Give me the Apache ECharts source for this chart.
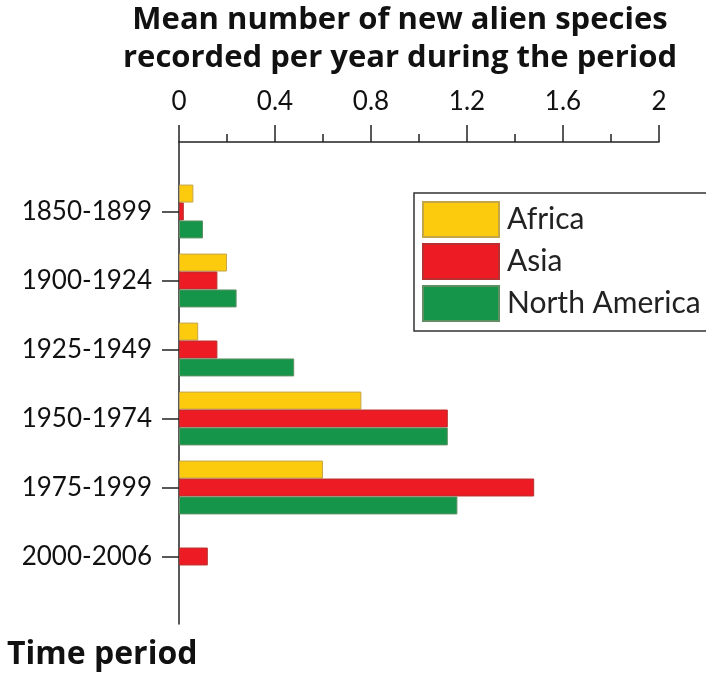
<!DOCTYPE html>
<html>
<head>
<meta charset="utf-8">
<script src="https://cdn.jsdelivr.net/npm/echarts@6/dist/echarts.min.js"></script>
<style>
  html, body { margin: 0; padding: 0; background: #fff; }
  #main { width: 706px; height: 674px; }
</style>
</head>
<body>
<div id="main"></div>
<script>
// data
var periods = ['1850-1899', '1900-1924', '1925-1949', '1950-1974', '1975-1999', '2000-2006'];
var africa = [0.06, 0.2, 0.08, 0.76, 0.6, null];
var asia = [0.02, 0.16, 0.16, 1.12, 1.48, 0.12];
var northAmerica = [0.1, 0.24, 0.48, 1.12, 1.16, null];

var font = 'Lato, "Open Sans", sans-serif';
var boldFont = '"Open Sans", Lato, sans-serif';

var myChart = echarts.init(document.getElementById('main'));

var option = {
	animation: false,
	backgroundColor: '#fff',
	title: [{
		text: 'Mean number of new alien species\nrecorded per year during the period',
		left: 400,
		top: 1,
		padding: 0,
		textAlign: 'center',
		textStyle: {
			fontFamily: boldFont,
			fontWeight: 'bold',
			fontSize: 31,
			lineHeight: 38,
			color: '#111'
		}
	}, {
		text: 'Time period',
		left: 7,
		top: 639,
		padding: 0,
		textStyle: {
			fontFamily: boldFont,
			fontWeight: 'bold',
			fontSize: 32,
			color: '#111'
		}
	}],
	legend: {
		orient: 'vertical',
		left: 414,
		top: 193,
		padding: [8, 30, 9, 8],
		itemWidth: 76,
		itemHeight: 35,
		itemGap: 5,
		borderColor: '#333',
		borderWidth: 1.5,
		icon: 'rect',
		textStyle: {
			fontFamily: font,
			fontSize: 30,
			color: '#222',
			padding: [0, 0, 0, 3]
		},
		data: ['Africa', 'Asia', 'North America']
	},
	grid: [{
		left: 179,
		right: 47,
		top: 177,
		height: 414
	}, {
		// just to stretch the vertical axis line past the categories
		left: 179,
		right: 47,
		top: 142,
		bottom: 50
	}],
	xAxis: [{
		type: 'value',
		gridIndex: 0,
		position: 'top',
		offset: 35,
		min: 0,
		max: 2,
		interval: 0.4,
		axisLine: { show: true, lineStyle: { color: '#222', width: 1.5 } },
		axisTick: { show: true, length: 17, lineStyle: { color: '#222', width: 1.5 } },
		minorTick: { show: true, splitNumber: 2, length: 8, lineStyle: { color: '#222', width: 1.5 } },
		splitLine: { show: false },
		axisLabel: {
			margin: 27,
			fontFamily: font,
			fontSize: 26,
			color: '#111',
			formatter: function (v) { return String(+v.toFixed(1)); }
		}
	}, {
		type: 'value',
		gridIndex: 1,
		show: false
	}],
	yAxis: [{
		type: 'category',
		gridIndex: 0,
		inverse: true,
		data: periods,
		axisLine: { show: false },
		axisTick: { show: true, alignWithLabel: true, length: 17, lineStyle: { color: '#222', width: 1.5 } },
		axisLabel: {
			margin: 27,
			fontFamily: font,
			fontSize: 26,
			color: '#111'
		}
	}, {
		type: 'value',
		gridIndex: 1,
		axisLine: { show: true, lineStyle: { color: '#222', width: 1.5 } },
		axisTick: { show: false },
		axisLabel: { show: false },
		splitLine: { show: false }
	}],
	series: [{
		name: 'Africa',
		type: 'bar',
		xAxisIndex: 0,
		yAxisIndex: 0,
		barGap: '0%',
		barCategoryGap: '22%',
		itemStyle: { color: '#FDCB0D', borderColor: '#C4A548', borderWidth: 1 },
		data: africa
	}, {
		name: 'Asia',
		type: 'bar',
		xAxisIndex: 0,
		yAxisIndex: 0,
		barGap: '0%',
		barCategoryGap: '22%',
		itemStyle: { color: '#ED1C24', borderColor: '#B8302F', borderWidth: 1 },
		data: asia
	}, {
		name: 'North America',
		type: 'bar',
		xAxisIndex: 0,
		yAxisIndex: 0,
		barGap: '0%',
		barCategoryGap: '22%',
		itemStyle: { color: '#14954A', borderColor: '#5F8F63', borderWidth: 1 },
		data: northAmerica
	}]
};

myChart.setOption(option);
</script>
</body>
</html>
